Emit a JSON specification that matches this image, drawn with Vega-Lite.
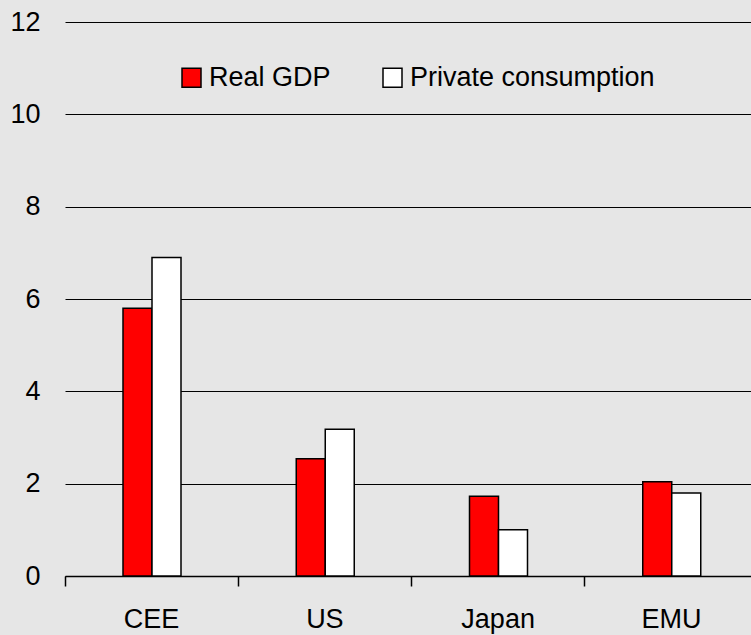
{
  "$schema": "https://vega.github.io/schema/vega-lite/v6.json",
  "autosize": {"type": "none"},
  "width": 686,
  "height": 554,
  "padding": {"left": 65, "top": 22, "right": 0, "bottom": 59},
  "background": "#e6e6e6",
  "config": {
    "view": {"stroke": null},
    "font": "Liberation Sans",
    "axis": {"labelFont": "Liberation Sans", "labelFontSize": 27, "labelColor": "#000"}
  },
  "data": {
    "values": [
      {"region": "CEE", "series": "Real GDP", "value": 5.8},
      {"region": "CEE", "series": "Private consumption", "value": 6.9},
      {"region": "US", "series": "Real GDP", "value": 2.54},
      {"region": "US", "series": "Private consumption", "value": 3.18},
      {"region": "Japan", "series": "Real GDP", "value": 1.73},
      {"region": "Japan", "series": "Private consumption", "value": 1.0},
      {"region": "EMU", "series": "Real GDP", "value": 2.04},
      {"region": "EMU", "series": "Private consumption", "value": 1.8}
    ]
  },
  "mark": {"type": "bar", "stroke": "#000", "strokeWidth": 1.5},
  "encoding": {
    "x": {
      "field": "region",
      "type": "nominal",
      "sort": null,
      "scale": {"range": [0, 693], "paddingInner": 0, "paddingOuter": 0},
      "axis": {
        "title": null,
        "labelAngle": 0,
        "bandPosition": 0,
        "domainColor": "#000",
        "domainWidth": 1.5,
        "tickColor": "#000",
        "tickWidth": 1.5,
        "tickSize": 10,
        "labelPadding": 20
      }
    },
    "xOffset": {
      "field": "series",
      "type": "nominal",
      "scale": {"domain": ["Real GDP", "Private consumption"], "range": [58, 116], "paddingOuter": 0, "paddingInner": 0}
    },
    "y": {
      "field": "value",
      "type": "quantitative",
      "scale": {"domain": [0, 12], "nice": false},
      "axis": {
        "title": null,
        "values": [0, 2, 4, 6, 8, 10, 12],
        "domain": false,
        "ticks": false,
        "labelPadding": 25,
        "grid": true,
        "gridColor": "#000",
        "gridWidth": 1.2,
        "gridOpacity": 1
      }
    },
    "fill": {
      "field": "series",
      "type": "nominal",
      "scale": {"domain": ["Real GDP", "Private consumption"], "range": ["#ff0000", "#ffffff"]},
      "legend": {
        "title": null,
        "orient": "none",
        "legendX": 113,
        "legendY": 42,
        "direction": "horizontal",
        "padding": 0,
        "symbolType": "square",
        "symbolSize": 361,
        "symbolStrokeColor": "#000",
        "symbolStrokeWidth": 1.5,
        "symbolOpacity": 1,
        "labelFont": "Liberation Sans",
        "labelFontSize": 27,
        "labelColor": "#000",
        "labelOffset": 4,
        "columnPadding": 48,
        "labelLimit": 400
      }
    }
  }
}
